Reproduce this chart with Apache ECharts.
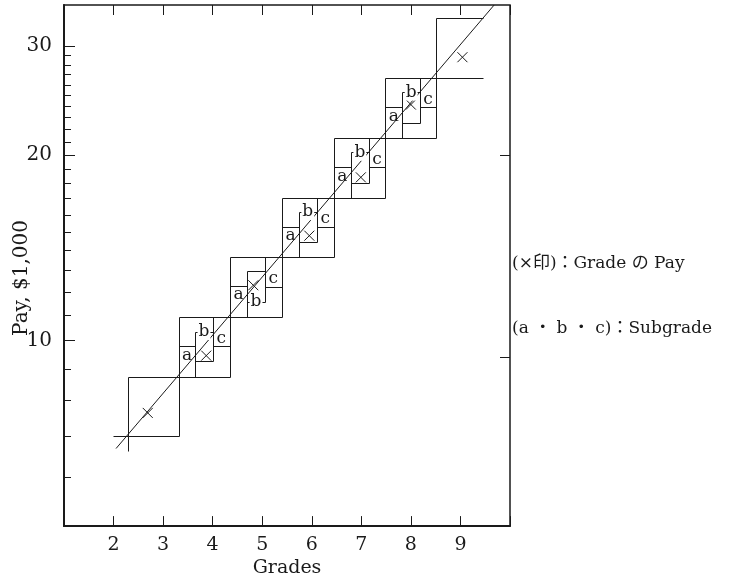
<!DOCTYPE html>
<html>
<head>
<meta charset="utf-8">
<script src="https://cdn.jsdelivr.net/npm/echarts@6/dist/echarts.min.js"></script>
<style>
html, body { margin: 0; padding: 0; background: #fff; }
#main { width: 730px; height: 583px; }
</style>
</head>
<body>
<div id="main"></div>
<script>
var myChart = echarts.init(document.getElementById('main'));

// axis ticks
var xTicks = [2, 3, 4, 5, 6, 7, 8, 9];
var yMajor = [10, 20, 30];
var yMinor = [6, 7, 8, 9, 11, 12, 13, 14, 15, 16, 17, 18, 19, 21, 22, 23, 24, 25, 26, 27, 28, 29];
var yRight = [9.4, 20];

// grade boxes (grade range x pay range, $1,000)
var gradeLeft  = [2.29, 3.32, 4.35, 5.40, 6.44, 7.48, 8.51];
var gradeRight = [3.32, 4.35, 5.40, 6.44, 7.48, 8.51, 9.45];
var payLow     = [7.01, 8.73, 10.93, 13.65, 17.04, 21.3, 26.6];
var payHigh    = [8.73, 10.93, 13.65, 17.04, 21.3, 26.6, 33.4];
var openRight  = [0, 0, 0, 0, 0, 0, 1];

// subgrades a, b, c (for boxes 1..5)
var subBox     = [1, 2, 3, 4, 5];
var subSplit1  = [3.65, 4.70, 5.74, 6.79, 7.83];
var subSplit2  = [4.00, 5.05, 6.10, 7.15, 8.18];
var aTop       = [9.78, 12.26, 15.29, 19.08, 23.9];
var bBottom    = [9.25, 11.56, 14.43, 18.01, 22.56];
var bTop       = [10.34, 12.96, 16.18, 20.19, 25.28];
var cBottom    = [9.78, 12.21, 15.29, 19.08, 23.9];
var bLabelEdge = ['top', 'bottom', 'top', 'top', 'top'];

// grade pay (x marks)
var markGrade = [2.69, 3.87, 4.82, 5.95, 6.99, 8.00, 9.04];
var markPay   = [7.63, 9.45, 12.29, 14.79, 18.39, 24.13, 28.8];

// trend line and start cross
var trendGrade = [2.05, 9.68];
var trendPay   = [6.68, 35];
var crossGrade = 2.29, crossPay = 7.01, crossLeft = 1.99, crossDown = 6.61;

var yTitle = 'Pay, $1,000';
var legendText1 = '(×印)：Grade の Pay';
var legendText2 = '(a ・ b ・ c)：Subgrade';

var serif = '"DejaVu Serif", "Noto Sans CJK JP", serif';
var ink = '#1a1a1a';
var thin = { stroke: ink, lineWidth: 1, fill: 'none' };

function px(v) { return Math.round(v) + 0.5; }

var boxRows = gradeLeft.map(function (g, i) {
    return [g, gradeRight[i], payLow[i], payHigh[i], openRight[i]];
});

var subRows = [];
var labelRows = [];
subBox.forEach(function (b, i) {
    var x0 = gradeLeft[b], x3 = gradeRight[b];
    subRows.push([x0, subSplit1[i], payLow[b], aTop[i]]);
    subRows.push([subSplit1[i], subSplit2[i], bBottom[i], bTop[i]]);
    subRows.push([subSplit2[i], x3, cBottom[i], payHigh[b]]);
    labelRows.push([(x0 + subSplit1[i]) / 2, aTop[i], 0]);
    labelRows.push([(subSplit1[i] + subSplit2[i]) / 2, bLabelEdge[i] === 'top' ? bTop[i] : bBottom[i], 1]);
    labelRows.push([(subSplit2[i] + x3) / 2, cBottom[i], 2]);
});

var segRows = [
    [crossLeft, crossPay, crossGrade, crossPay],
    [crossGrade, crossDown, crossGrade, crossPay]
];

// y ticks drawn at the left edge (x = 1)
function tickSeries(name, values, len, withLabel) {
    return {
        type: 'custom', name: name,
        data: values.map(function (v) { return [1, v]; }),
        encode: { x: 0, y: 1 }, z: 6,
        renderItem: function (params, api) {
            var v = api.value(1);
            var p = api.coord([api.value(0), v]);
            var y = Math.round(p[1]);
            var kids = [{ type: 'rect', shape: { x: p[0], y: y, width: len, height: 1 }, style: { fill: ink } }];
            if (withLabel) {
                kids.push({ type: 'text', style: { text: String(v), x: p[0] - 12, y: p[1], align: 'right', verticalAlign: 'middle', font: '20px ' + serif, fill: ink } });
            }
            return { type: 'group', children: kids };
        }
    };
}

option = {
    animation: false,
    backgroundColor: '#fff',
    grid: {
        left: 64, right: 220, top: 5, bottom: 53,
        show: true, borderColor: ink, borderWidth: 1.5
    },
    xAxis: [{
        type: 'value', min: 1, max: 10, interval: 1,
        name: 'Grades', nameLocation: 'middle', nameGap: 31,
        nameTextStyle: { fontFamily: serif, fontSize: 19, color: ink },
        axisLine: { show: true, lineStyle: { color: ink, width: 2 } },
        axisTick: { show: true, inside: true, length: 10, lineStyle: { color: ink } },
        axisLabel: {
            margin: 9, fontFamily: serif, fontSize: 19, color: ink,
            formatter: function (v) { return xTicks.indexOf(v) >= 0 ? String(v) : ''; }
        },
        splitLine: { show: false }
    }, {
        type: 'value', min: 1, max: 10, interval: 1, position: 'top',
        axisLine: { show: false },
        axisTick: { show: true, inside: true, length: 10, lineStyle: { color: ink } },
        axisLabel: { show: false },
        splitLine: { show: false }
    }],
    yAxis: {
        type: 'log', logBase: 10, min: 5, max: 35,
        axisLine: { show: true, lineStyle: { color: ink, width: 2 } },
        axisTick: { show: false },
        axisLabel: { show: false },
        splitLine: { show: false }
    },
    graphic: [
        { type: 'text', x: 22, y: 278, rotation: Math.PI / 2, style: { text: yTitle, font: '20px ' + serif, fill: ink, align: 'center', verticalAlign: 'middle' } },
        { type: 'text', x: 512, y: 264, style: { text: legendText1, font: '17px ' + serif, fill: ink, verticalAlign: 'middle' } },
        { type: 'text', x: 512, y: 329, style: { text: legendText2, font: '17px ' + serif, fill: ink, verticalAlign: 'middle' } }
    ],
    series: [
        tickSeries('yMinorTicks', yMinor, 7, false),
        tickSeries('yMajorTicks', yMajor, 11, true),
        {
            type: 'custom', name: 'rightTicks', data: yRight.map(function (v) { return [10, v]; }),
            encode: { x: 0, y: 1 },
            renderItem: function (params, api) {
                var p = api.coord([api.value(0), api.value(1)]);
                return { type: 'rect', shape: { x: p[0] - 10, y: Math.round(p[1]), width: 10, height: 1 }, style: { fill: ink } };
            }
        },
        {
            type: 'custom', name: 'gradeBoxes', data: boxRows,
            encode: { x: [0, 1], y: [2, 3] },
            renderItem: function (params, api) {
                var a = api.coord([api.value(0), api.value(2)]);
                var b = api.coord([api.value(1), api.value(3)]);
                var x0 = px(a[0]), x1 = px(b[0]), yb = px(a[1]), yt = px(b[1]);
                var pts = api.value(4)
                    ? [[x1, yt], [x0, yt], [x0, yb], [x1, yb]]
                    : [[x0, yb], [x0, yt], [x1, yt], [x1, yb], [x0, yb]];
                return { type: 'polyline', shape: { points: pts }, style: thin };
            }
        },
        {
            type: 'custom', name: 'subgrades', data: subRows,
            encode: { x: [0, 1], y: [2, 3] },
            renderItem: function (params, api) {
                var a = api.coord([api.value(0), api.value(2)]);
                var b = api.coord([api.value(1), api.value(3)]);
                var x0 = px(a[0]), x1 = px(b[0]), yb = px(a[1]), yt = px(b[1]);
                return { type: 'rect', shape: { x: x0, y: yt, width: x1 - x0, height: yb - yt }, style: thin };
            }
        },
        {
            type: 'custom', name: 'cross', data: segRows,
            encode: { x: [0, 2], y: [1, 3] },
            renderItem: function (params, api) {
                var a = api.coord([api.value(0), api.value(1)]);
                var b = api.coord([api.value(2), api.value(3)]);
                return { type: 'line', shape: { x1: px(a[0]), y1: px(a[1]), x2: px(b[0]), y2: px(b[1]) }, style: { stroke: ink, lineWidth: 1 } };
            }
        },
        {
            type: 'line', name: 'trend',
            data: trendGrade.map(function (g, i) { return [g, trendPay[i]]; }),
            symbol: 'none', lineStyle: { color: ink, width: 1 }, z: 3
        },
        {
            type: 'custom', name: 'gradePay',
            data: markGrade.map(function (g, i) { return [g, markPay[i]]; }),
            encode: { x: 0, y: 1 }, z: 4,
            renderItem: function (params, api) {
                var p = api.coord([api.value(0), api.value(1)]);
                var r = 5;
                return {
                    type: 'group', children: [
                        { type: 'line', shape: { x1: p[0] - r, y1: p[1] - r, x2: p[0] + r, y2: p[1] + r }, style: { stroke: ink, lineWidth: 1 } },
                        { type: 'line', shape: { x1: p[0] - r, y1: p[1] + r, x2: p[0] + r, y2: p[1] - r }, style: { stroke: ink, lineWidth: 1 } }
                    ]
                };
            }
        },
        {
            type: 'custom', name: 'subLabels', data: labelRows,
            encode: { x: 0, y: 1 }, z: 5,
            renderItem: function (params, api) {
                var kind = api.value(2);
                var p = api.coord([api.value(0), api.value(1)]);
                var dy = kind === 0 ? 9 : (kind === 2 ? -8 : 0);
                var st = { text: 'abc'.charAt(kind), x: p[0], y: p[1] + dy, align: 'center', verticalAlign: 'middle', font: '17px ' + serif, fill: ink };
                if (kind === 1) { st.backgroundColor = '#fff'; st.padding = [0, 1]; }
                return { type: 'text', style: st };
            }
        }
    ]
};

myChart.setOption(option);
</script>
</body>
</html>
